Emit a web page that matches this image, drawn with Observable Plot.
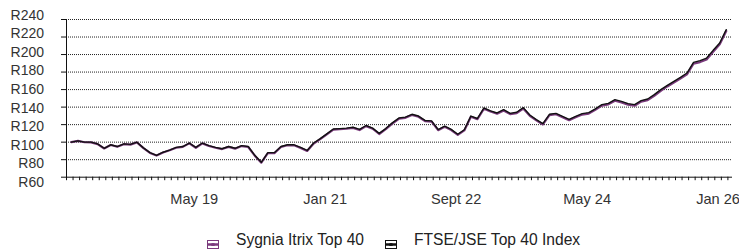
<!DOCTYPE html>
<html>
<head>
<meta charset="utf-8">
<script src="https://cdn.jsdelivr.net/npm/d3@7"></script>
<script src="https://cdn.jsdelivr.net/npm/@observablehq/plot@0.6"></script>
<style>
  html, body { margin: 0; padding: 0; background: #fff; }
  #wrap { position: relative; width: 739px; height: 252px; overflow: hidden; }
  #legend { position: absolute; left: 207px; top: 231px; display: flex; gap: 21px;
    font: 15.6px "Liberation Sans", Arial, sans-serif; color: #222; line-height: 17px; white-space: nowrap; }
  #legend .item svg { vertical-align: -4px; margin-right: 17px; }
</style>
</head>
<body>
<div id="wrap"><div id="chart"></div><div id="legend"></div></div>
<script>
// Monthly categories: Oct 2017 .. Feb 2026
const startMonth = "2017-10";
const endMonth = "2026-03"; // exclusive
const months = d3.utcMonths(new Date(startMonth + "-01"), new Date(endMonth + "-01"));

const seriesNames = ["Sygnia Itrix Top 40", "FTSE/JSE Top 40 Index"];
const seriesColors = ["#7a3a7c", "#111111"];

const sygnia = [
  100,101.4,99.9,99.8,97.8,92.8,96.8,94.8,97.7,97.2,
  99.7,93.2,87.7,84.7,88.2,90.7,93.6,94.6,98.6,93.6,
  98.6,95.6,93.6,92.1,94.6,92.6,95.5,94.5,84.6,76.6,
  87.5,87.5,94.5,96.5,96.4,93.4,90,98.4,103.4,108.9,
  114.3,114.8,115.3,116.3,113.8,118.3,115.3,109.3,114.8,121.2,
  126.7,127.8,131,129,124,123.5,113.7,117.5,113.8,108.3,
  113.4,129,126.2,138.1,134.9,132.4,136.2,132,133.2,138.4,
  130.1,124.8,120.2,130.8,131.9,128.5,125.1,128.5,131.5,132.6,
  136.8,141.7,143.2,147.3,145.4,142.8,141.6,146.2,148,152.9,
  158.6,163.6,168,172.6,177.4,189.5,191.4,194.4,203.2,211.6,
  226.8
];
const ftse = [
  100,101.5,100,100,98,93,97,95,98,97.5,
  100,93.5,88,85,88.5,91,94,95,99,94,
  99,96,94,92.5,95,93,96,95,85,77,
  88,88,95,97,97,94,90.5,99,104,109.5,
  115,115.5,116,117,114.5,119,116,110,115.5,122,
  127.5,128.6,131.8,129.8,124.8,124.3,114.4,118.3,114.6,109,
  114.2,129.8,127,139,135.8,133.3,137.1,132.9,134.1,139.4,
  131,125.7,121.1,131.8,132.9,129.5,126.1,129.5,132.5,133.7,
  137.9,142.8,144.3,148.5,146.6,144,142.8,147.4,149.3,154.2,
  159.9,164.9,169.4,174,178.9,191.1,193,196,204.8,213.2,
  228.4
];

const xLabelMonths = ["2019-05", "2021-01", "2022-09", "2024-05", "2026-01"];
const xLabels = ["May 19", "Jan 21", "Sept 22", "May 24", "Jan 26"];
const yTicks = [60, 80, 100, 120, 140, 160, 180, 200, 220, 240];

const W = 739, H = 215, ML = 66, MR = 8, MT = 19, MB = 38.3;

const monthKey = d => d.toISOString().slice(0, 7);
const labelIdx = xLabelMonths.map(m => months.findIndex(d => monthKey(d) === m));
const labelAt = labelIdx.map(i => i - 0.25);
const labelText = new Map(labelAt.map((p, k) => [p, xLabels[k]]));

const rows = (vals, name) => vals.map((v, i) => ({i, v, name}));

const xDomain = [-0.75, months.length - 0.2];
const boundaries = d3.range(months.length + 1).map(k => k - 0.75).filter(t => t <= xDomain[1]);

// y labels in the reference are spread slightly wider than the grid
const labelPos = v => 244.9 - (240 - v) * 1.061;

const chart = Plot.plot({
  width: W,
  height: H,
  marginLeft: ML,
  marginRight: MR,
  marginTop: MT,
  marginBottom: MB,
  style: {fontFamily: '"Liberation Sans", Arial, sans-serif', fontSize: "15px", color: "#333", background: "#fff"},
  x: {domain: xDomain, label: null},
  y: {domain: [60, 240], label: null, axis: null},
  marks: [
    Plot.gridY(yTicks.filter(t => t > 60), {stroke: "#222", strokeOpacity: 1, strokeDasharray: "1,1"}),
    // y-axis tick marks (to the left of the axis line)
    Plot.ruleY(yTicks, {y: d => d, stroke: "#111", insetLeft: -5, insetRight: W - ML - MR}),
    Plot.text(yTicks, {frameAnchor: "left", y: labelPos, text: d => "R" + d, textAnchor: "end", dx: -22.5, fill: "#333", fontSize: 14}),
    // monthly x tick marks below the axis line
    Plot.ruleX(boundaries, {x: d => d, stroke: "#111", insetTop: H - MT - MB, insetBottom: -3.5}),
    Plot.axisX({ticks: labelAt, tickSize: 0, tickPadding: 16, tickFormat: p => labelText.get(p), fill: "#333", fontSize: 14.6}),
    Plot.frame({anchor: "left", stroke: "#111"}),
    Plot.frame({anchor: "bottom", stroke: "#111"}),
    Plot.lineY(rows(sygnia, seriesNames[0]), {x: "i", y: "v", stroke: seriesColors[0], strokeWidth: 2.2}),
    Plot.lineY(rows(ftse, seriesNames[1]), {x: "i", y: "v", stroke: seriesColors[1], strokeWidth: 1.4})
  ]
});
document.getElementById("chart").append(chart);

const legend = document.getElementById("legend");
seriesNames.forEach((name, k) => {
  const c = seriesColors[k];
  const item = document.createElement("span");
  item.className = "item";
  item.innerHTML = `<svg width="12" height="9" viewBox="0 0 12 9">
    <rect x="0.5" y="0.5" width="11" height="8" fill="#fff" stroke="${c}" stroke-width="1"/>
    <line x1="0.5" x2="11.5" y1="4.5" y2="4.5" stroke="${c}" stroke-width="2.5"/>
    <ellipse cx="6" cy="4.5" rx="2.2" ry="1.6" fill="${c}"/>
  </svg>${name}`;
  legend.append(item);
});
</script>
</body>
</html>
